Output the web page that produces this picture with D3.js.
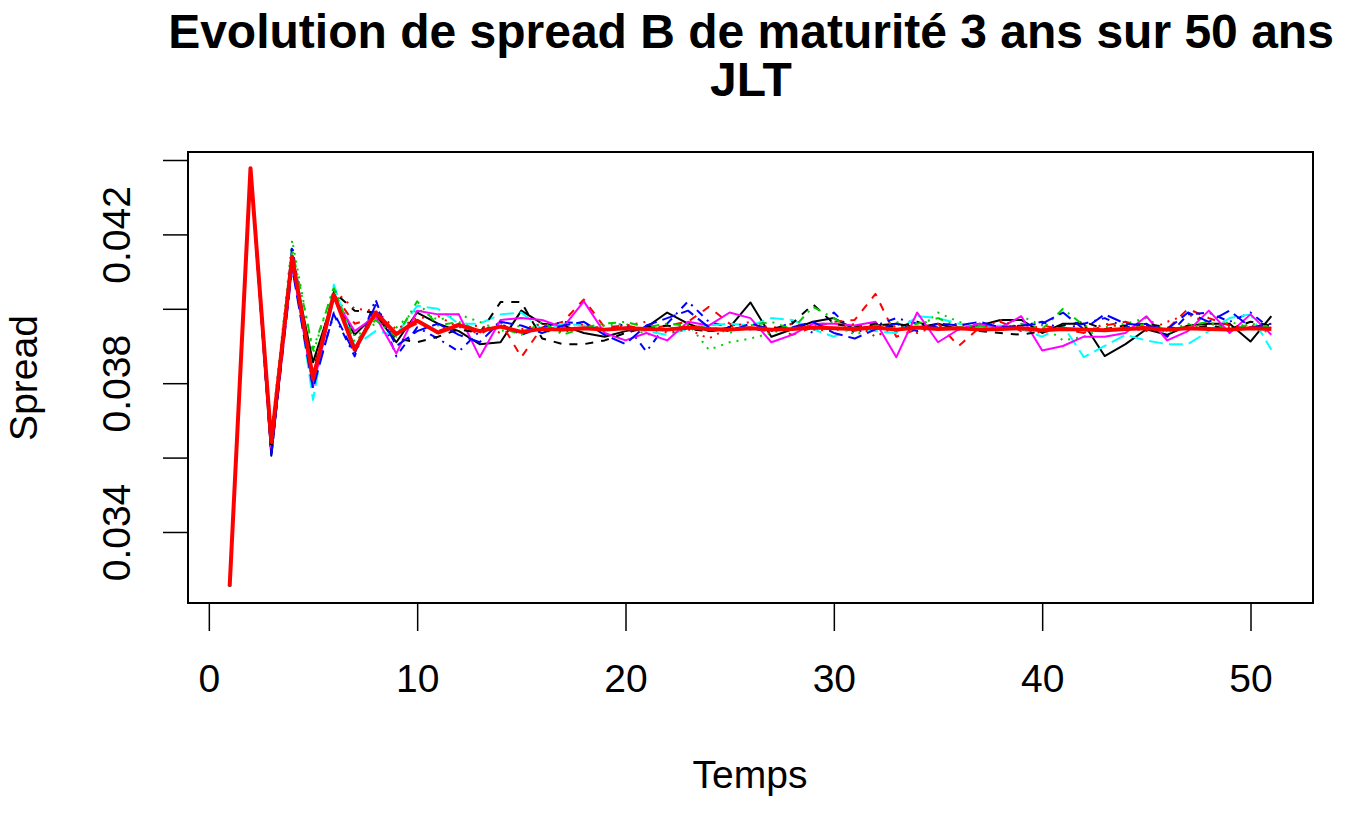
<!DOCTYPE html>
<html><head><meta charset="utf-8">
<script src="https://cdn.jsdelivr.net/npm/d3@7"></script>
<style>body{margin:0;background:#fff}svg{display:block}text{font-family:Arial,"Liberation Sans",sans-serif;fill:#000}</style>
</head><body><svg id="c" width="1348" height="815"></svg>
<script>
const titleLines = ["Evolution de spread B de maturité 3 ans sur 50 ans", "JLT"];
const xLabel = "Temps", yLabel = "Spread";
const xTicks = [0, 10, 20, 30, 40, 50];
const yTicks = [0.034, 0.036, 0.038, 0.040, 0.042, 0.044];
const yTickLabels = ["0.034", "", "0.038", "", "0.042", ""];
const temps = d3.range(1, 52);

const sBlackSolid = [0.03254,0.04378,0.03605,0.04130,0.03856,0.04030,0.03930,0.03985,0.03910,0.03990,0.03960,0.03940,0.03905,0.03910,0.03995,0.03960,0.03955,0.03935,0.03925,0.03940,0.03950,0.03990,0.03960,0.03940,0.03950,0.04017,0.03925,0.03945,0.03965,0.03975,0.03945,0.03955,0.03960,0.03950,0.03960,0.03945,0.03955,0.03970,0.03970,0.03935,0.03960,0.03960,0.03873,0.03905,0.03945,0.03930,0.03955,0.03960,0.03960,0.03912,0.03980];
const sRedDashed = [0.03254,0.04378,0.03650,0.04150,0.03820,0.04040,0.03960,0.03975,0.03935,0.03960,0.03940,0.03960,0.03930,0.03965,0.03870,0.03950,0.03965,0.04025,0.03950,0.03955,0.03945,0.03955,0.03965,0.04005,0.03960,0.03945,0.03955,0.03930,0.03950,0.03965,0.03970,0.04040,0.03925,0.03945,0.03960,0.03900,0.03950,0.03965,0.03940,0.03955,0.03945,0.03935,0.03955,0.03965,0.03950,0.03945,0.04000,0.03975,0.03955,0.03945,0.03950];
const sGreenDotted = [0.03254,0.04378,0.03660,0.04185,0.03880,0.04060,0.03925,0.03960,0.03950,0.04000,0.03970,0.03985,0.03965,0.03940,0.03955,0.03935,0.03950,0.03945,0.03955,0.03960,0.03930,0.03945,0.03960,0.03890,0.03910,0.03920,0.03935,0.03950,0.03955,0.03965,0.03930,0.03950,0.03965,0.03945,0.03990,0.03965,0.03950,0.03945,0.03980,0.03955,0.03915,0.03925,0.03950,0.03960,0.03975,0.03940,0.03960,0.03945,0.03965,0.03950,0.03935];
const sBlueDotDash = [0.03254,0.04378,0.03602,0.04170,0.03800,0.03985,0.03872,0.04025,0.03872,0.03950,0.03920,0.03885,0.03940,0.03960,0.03930,0.03950,0.03965,0.03960,0.03940,0.03960,0.03885,0.03960,0.04020,0.03965,0.03950,0.03945,0.03940,0.03965,0.03935,0.03990,0.03935,0.03955,0.03975,0.03960,0.03950,0.03945,0.03960,0.03950,0.03955,0.03965,0.03945,0.03960,0.03975,0.03950,0.03960,0.03925,0.03985,0.03990,0.03965,0.03990,0.03945];
const sCyanLongDash = [0.03254,0.04378,0.03640,0.04140,0.03755,0.04065,0.03900,0.03940,0.03930,0.04008,0.04000,0.03960,0.03960,0.03985,0.03990,0.03945,0.03960,0.03955,0.03945,0.03945,0.03940,0.03930,0.03945,0.03955,0.03960,0.03955,0.03975,0.03970,0.03945,0.03925,0.03950,0.03940,0.03935,0.03980,0.03975,0.03960,0.03950,0.03955,0.03945,0.03925,0.03955,0.03870,0.03900,0.03930,0.03915,0.03905,0.03905,0.03940,0.03975,0.03985,0.03890];
const sMagentaSolid = [0.03254,0.04378,0.03620,0.04120,0.03790,0.04030,0.03940,0.03980,0.03880,0.03995,0.03985,0.03985,0.03870,0.03970,0.03975,0.03970,0.03950,0.04020,0.03935,0.03915,0.03935,0.03915,0.03965,0.03955,0.03990,0.03975,0.03910,0.03930,0.03960,0.03960,0.03955,0.03965,0.03870,0.03990,0.03910,0.03945,0.03960,0.03950,0.03980,0.03888,0.03900,0.03925,0.03925,0.03935,0.03980,0.03915,0.03940,0.03995,0.03935,0.03985,0.03930];
const sBlackDashed = [0.03254,0.04378,0.03615,0.04135,0.03830,0.04045,0.03995,0.03990,0.03920,0.03910,0.03925,0.03945,0.03935,0.04018,0.04018,0.03920,0.03905,0.03905,0.03915,0.03935,0.03950,0.03955,0.03945,0.03940,0.03945,0.03950,0.03945,0.03960,0.04012,0.03960,0.03950,0.03960,0.03950,0.03965,0.03945,0.03950,0.03940,0.03935,0.03930,0.03940,0.03955,0.03965,0.03945,0.03955,0.03960,0.03950,0.03945,0.03955,0.03945,0.03965,0.03955];
const sRedDotted = [0.03254,0.04378,0.03670,0.04145,0.03810,0.04050,0.04000,0.03995,0.03945,0.03975,0.03980,0.03950,0.03955,0.03935,0.03945,0.03960,0.03935,0.03960,0.03945,0.03955,0.03965,0.03935,0.03945,0.03920,0.03950,0.03965,0.03935,0.03960,0.03945,0.03940,0.03960,0.03925,0.03955,0.03935,0.03955,0.03960,0.03945,0.03970,0.03945,0.03935,0.03950,0.03935,0.03960,0.03950,0.03940,0.03965,0.03985,0.03960,0.03950,0.03955,0.03945];
const sGreenDotDash = [0.03254,0.04378,0.03655,0.04160,0.03890,0.04055,0.03910,0.03970,0.03925,0.04020,0.03955,0.03965,0.03940,0.03950,0.03930,0.03965,0.03930,0.03950,0.03960,0.03965,0.03950,0.03960,0.03955,0.03950,0.03935,0.03955,0.03965,0.03945,0.04005,0.03975,0.03940,0.03955,0.03940,0.03960,0.03975,0.03950,0.03955,0.03945,0.03960,0.03945,0.04000,0.03955,0.03940,0.03945,0.03960,0.03935,0.03955,0.03965,0.03940,0.03960,0.03950];
const sBlueLongDash = [0.03254,0.04378,0.03610,0.04110,0.03785,0.03990,0.03880,0.04010,0.03900,0.03940,0.03960,0.03930,0.03910,0.03965,0.03955,0.03935,0.03955,0.03965,0.03930,0.03905,0.03955,0.03975,0.03995,0.03950,0.03940,0.03960,0.03945,0.03950,0.03965,0.03935,0.03920,0.03945,0.03960,0.03940,0.03960,0.03955,0.03965,0.03950,0.03955,0.03960,0.03990,0.03945,0.03985,0.03960,0.03955,0.03945,0.03990,0.03965,0.03995,0.03950,0.03960];
const sMean = [0.03254,0.04378,0.03642,0.04140,0.03812,0.04038,0.03890,0.03990,0.03932,0.03968,0.03936,0.03956,0.03940,0.03952,0.03938,0.03946,0.03944,0.03948,0.03944,0.03948,0.03946,0.03944,0.03950,0.03946,0.03944,0.03948,0.03944,0.03946,0.03950,0.03948,0.03946,0.03950,0.03944,0.03950,0.03946,0.03948,0.03944,0.03946,0.03948,0.03942,0.03946,0.03944,0.03942,0.03946,0.03948,0.03944,0.03948,0.03946,0.03944,0.03948,0.03946];

const seriesList = [sBlackSolid, sRedDashed, sGreenDotted, sBlueDotDash, sCyanLongDash, sMagentaSolid, sBlackDashed, sRedDotted, sGreenDotDash, sBlueLongDash];
const seriesColors = ["#000000", "#FF0000", "#00CD00", "#0000FF", "#00FFFF", "#FF00FF"];
const dashes = [null, "8,8", "2,6", "2,6,8,6", "14,6"];

const svg = d3.select("#c");
svg.append("rect").attr("width",1348).attr("height",815).attr("fill","#fff");
const L = 188, R = 1313, T = 152, B = 603;
const x = d3.scaleLinear().domain([-1, 53]).range([L, R]);
const y = d3.scaleLinear().domain([0.032091, 0.044215]).range([B, T]);

svg.append("clipPath").attr("id","clp").append("rect").attr("x",L).attr("y",T).attr("width",R-L).attr("height",B-T);
const g = svg.append("g").attr("clip-path","url(#clp)");
const line = d3.line().x((d,i)=>x(temps[i])).y(d=>y(d));
seriesList.forEach((s,k)=>{
  g.append("path").attr("d", line(s)).attr("fill","none")
   .attr("stroke", seriesColors[k % 6]).attr("stroke-width", 2)
   .attr("stroke-dasharray", dashes[k % 5]).attr("stroke-linejoin","round");
});
g.append("path").attr("d", line(sMean)).attr("fill","none").attr("stroke","#FF0000").attr("stroke-width",4).attr("stroke-linejoin","round");

svg.append("rect").attr("x",L).attr("y",T).attr("width",R-L).attr("height",B-T).attr("fill","none").attr("stroke","#000").attr("stroke-width",2);

// x axis
const xa = svg.append("g").attr("transform",`translate(0,${B})`)
  .call(d3.axisBottom(x).tickValues(xTicks).tickSize(28).tickPadding(34).tickFormat(d3.format("d")));
xa.select(".domain").attr("d", `M${x(0)},0H${x(50)}`).attr("stroke-width",2);
xa.selectAll(".tick line").attr("stroke-width",1.5);
xa.selectAll("text").attr("font-size",39).attr("font-family","Arial, 'Liberation Sans', sans-serif").attr("dy",null).attr("y",89);

// y axis
const ya = svg.append("g").attr("transform",`translate(${L},0)`)
  .call(d3.axisLeft(y).tickValues(yTicks).tickSize(25).tickFormat((d,i)=>yTickLabels[i]));
ya.select(".domain").attr("d", `M0,${y(0.034)}V${y(0.044)}`).attr("stroke-width",2);
ya.selectAll(".tick line").attr("stroke-width",1.5);
ya.selectAll(".tick text").attr("font-size",39).attr("font-family","Arial, 'Liberation Sans', sans-serif")
  .attr("x",null).attr("dy",null).attr("text-anchor","middle")
  .attr("transform","translate(-58,0) rotate(-90)");

svg.append("text").attr("x",751).attr("y",48).attr("text-anchor","middle").attr("font-size",48).attr("font-weight","bold").text(titleLines[0]);
svg.append("text").attr("x",751).attr("y",96).attr("text-anchor","middle").attr("font-size",48).attr("font-weight","bold").text(titleLines[1]);
svg.append("text").attr("x",750).attr("y",788).attr("text-anchor","middle").attr("font-size",39).text(xLabel);
svg.append("text").attr("transform","translate(37,378) rotate(-90)").attr("text-anchor","middle").attr("font-size",39).text(yLabel);
</script></body></html>
